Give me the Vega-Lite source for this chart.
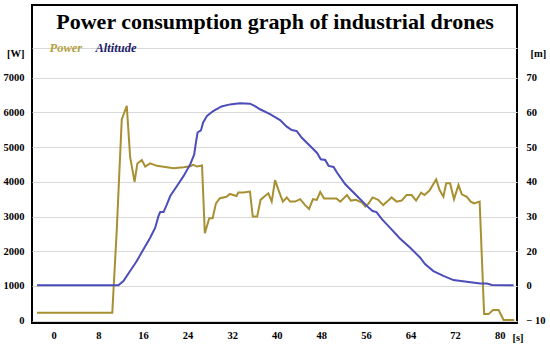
{
  "$schema": "https://vega.github.io/schema/vega-lite/v6.json",
  "autosize": {"type": "none"},
  "padding": {"left": 32, "top": 5, "right": 33, "bottom": 23},
  "width": 485,
  "height": 318,
  "background": "#ffffff",
  "config": {
    "font": "Liberation Serif",
    "view": {"stroke": "#000000", "strokeWidth": 2},
    "axis": {
      "labelFont": "Liberation Serif",
      "labelFontWeight": "bold",
      "labelFontSize": 10.5,
      "labelColor": "#000000",
      "titleFont": "Liberation Serif",
      "titleFontWeight": "bold",
      "titleFontSize": 10.5,
      "titleColor": "#000000",
      "domain": false,
      "ticks": false
    },
    "legend": {
      "labelFont": "Liberation Serif"
    }
  },
  "data": {
    "values": [
      {"t": -3.0, "value": 230, "series": "Power"},
      {"t": 10.5, "value": 230, "series": "Power"},
      {"t": 11.3, "value": 2600, "series": "Power"},
      {"t": 12.2, "value": 5800, "series": "Power"},
      {"t": 13.1, "value": 6190, "series": "Power"},
      {"t": 13.7, "value": 4720, "series": "Power"},
      {"t": 14.5, "value": 4000, "series": "Power"},
      {"t": 15.0, "value": 4530, "series": "Power"},
      {"t": 15.8, "value": 4630, "series": "Power"},
      {"t": 16.4, "value": 4440, "series": "Power"},
      {"t": 17.3, "value": 4530, "series": "Power"},
      {"t": 18.5, "value": 4460, "series": "Power"},
      {"t": 20.3, "value": 4420, "series": "Power"},
      {"t": 21.5, "value": 4390, "series": "Power"},
      {"t": 23.3, "value": 4420, "series": "Power"},
      {"t": 24.5, "value": 4450, "series": "Power"},
      {"t": 25.0, "value": 4490, "series": "Power"},
      {"t": 25.7, "value": 4440, "series": "Power"},
      {"t": 26.6, "value": 4470, "series": "Power"},
      {"t": 27.1, "value": 2520, "series": "Power"},
      {"t": 27.9, "value": 2950, "series": "Power"},
      {"t": 28.5, "value": 2950, "series": "Power"},
      {"t": 29.1, "value": 3380, "series": "Power"},
      {"t": 29.8, "value": 3530, "series": "Power"},
      {"t": 31.0, "value": 3570, "series": "Power"},
      {"t": 31.6, "value": 3650, "series": "Power"},
      {"t": 32.2, "value": 3620, "series": "Power"},
      {"t": 32.8, "value": 3590, "series": "Power"},
      {"t": 33.1, "value": 3690, "series": "Power"},
      {"t": 34.0, "value": 3690, "series": "Power"},
      {"t": 35.2, "value": 3720, "series": "Power"},
      {"t": 35.7, "value": 3000, "series": "Power"},
      {"t": 36.5, "value": 3000, "series": "Power"},
      {"t": 37.1, "value": 3480, "series": "Power"},
      {"t": 37.9, "value": 3590, "series": "Power"},
      {"t": 38.5, "value": 3670, "series": "Power"},
      {"t": 39.1, "value": 3430, "series": "Power"},
      {"t": 39.7, "value": 4050, "series": "Power"},
      {"t": 40.3, "value": 3770, "series": "Power"},
      {"t": 41.1, "value": 3430, "series": "Power"},
      {"t": 41.8, "value": 3550, "series": "Power"},
      {"t": 42.4, "value": 3430, "series": "Power"},
      {"t": 43.3, "value": 3430, "series": "Power"},
      {"t": 44.2, "value": 3500, "series": "Power"},
      {"t": 45.1, "value": 3330, "series": "Power"},
      {"t": 45.8, "value": 3220, "series": "Power"},
      {"t": 46.5, "value": 3500, "series": "Power"},
      {"t": 47.2, "value": 3480, "series": "Power"},
      {"t": 47.8, "value": 3710, "series": "Power"},
      {"t": 48.5, "value": 3520, "series": "Power"},
      {"t": 49.6, "value": 3520, "series": "Power"},
      {"t": 50.7, "value": 3520, "series": "Power"},
      {"t": 51.4, "value": 3430, "series": "Power"},
      {"t": 52.6, "value": 3620, "series": "Power"},
      {"t": 53.3, "value": 3460, "series": "Power"},
      {"t": 54.2, "value": 3480, "series": "Power"},
      {"t": 55.3, "value": 3400, "series": "Power"},
      {"t": 55.9, "value": 3290, "series": "Power"},
      {"t": 56.4, "value": 3360, "series": "Power"},
      {"t": 57.2, "value": 3550, "series": "Power"},
      {"t": 58.2, "value": 3480, "series": "Power"},
      {"t": 59.1, "value": 3330, "series": "Power"},
      {"t": 59.8, "value": 3430, "series": "Power"},
      {"t": 60.6, "value": 3550, "series": "Power"},
      {"t": 61.5, "value": 3430, "series": "Power"},
      {"t": 62.4, "value": 3460, "series": "Power"},
      {"t": 63.3, "value": 3620, "series": "Power"},
      {"t": 64.2, "value": 3620, "series": "Power"},
      {"t": 65.0, "value": 3460, "series": "Power"},
      {"t": 65.9, "value": 3690, "series": "Power"},
      {"t": 66.5, "value": 3620, "series": "Power"},
      {"t": 67.4, "value": 3750, "series": "Power"},
      {"t": 68.6, "value": 4070, "series": "Power"},
      {"t": 69.2, "value": 3770, "series": "Power"},
      {"t": 69.9, "value": 3570, "series": "Power"},
      {"t": 70.4, "value": 3960, "series": "Power"},
      {"t": 71.1, "value": 3960, "series": "Power"},
      {"t": 71.8, "value": 3500, "series": "Power"},
      {"t": 72.6, "value": 3910, "series": "Power"},
      {"t": 73.2, "value": 3640, "series": "Power"},
      {"t": 74.1, "value": 3570, "series": "Power"},
      {"t": 74.8, "value": 3430, "series": "Power"},
      {"t": 75.4, "value": 3380, "series": "Power"},
      {"t": 76.4, "value": 3430, "series": "Power"},
      {"t": 77.2, "value": 190, "series": "Power"},
      {"t": 78.0, "value": 190, "series": "Power"},
      {"t": 78.8, "value": 310, "series": "Power"},
      {"t": 79.8, "value": 310, "series": "Power"},
      {"t": 80.7, "value": 20, "series": "Power"},
      {"t": 82.6, "value": 20, "series": "Power"},
      {"t": -3.0, "value": 0.2, "series": "Altitude"},
      {"t": 11.6, "value": 0.2, "series": "Altitude"},
      {"t": 12.5, "value": 1.4, "series": "Altitude"},
      {"t": 13.7, "value": 4.3, "series": "Altitude"},
      {"t": 14.9, "value": 7.2, "series": "Altitude"},
      {"t": 16.1, "value": 10.6, "series": "Altitude"},
      {"t": 17.3, "value": 13.9, "series": "Altitude"},
      {"t": 18.2, "value": 16.8, "series": "Altitude"},
      {"t": 18.8, "value": 20.2, "series": "Altitude"},
      {"t": 19.1, "value": 21.3, "series": "Altitude"},
      {"t": 19.7, "value": 21.3, "series": "Altitude"},
      {"t": 20.3, "value": 23.5, "series": "Altitude"},
      {"t": 20.9, "value": 25.9, "series": "Altitude"},
      {"t": 22.1, "value": 28.8, "series": "Altitude"},
      {"t": 23.3, "value": 31.7, "series": "Altitude"},
      {"t": 24.5, "value": 35.1, "series": "Altitude"},
      {"t": 25.2, "value": 37.9, "series": "Altitude"},
      {"t": 25.5, "value": 41.3, "series": "Altitude"},
      {"t": 25.8, "value": 44.2, "series": "Altitude"},
      {"t": 26.4, "value": 44.8, "series": "Altitude"},
      {"t": 26.8, "value": 47.1, "series": "Altitude"},
      {"t": 27.5, "value": 49.0, "series": "Altitude"},
      {"t": 28.6, "value": 50.4, "series": "Altitude"},
      {"t": 30.1, "value": 51.7, "series": "Altitude"},
      {"t": 31.6, "value": 52.3, "series": "Altitude"},
      {"t": 33.4, "value": 52.6, "series": "Altitude"},
      {"t": 35.2, "value": 52.5, "series": "Altitude"},
      {"t": 36.1, "value": 51.8, "series": "Altitude"},
      {"t": 37.0, "value": 50.9, "series": "Altitude"},
      {"t": 38.8, "value": 49.5, "series": "Altitude"},
      {"t": 40.6, "value": 47.8, "series": "Altitude"},
      {"t": 41.8, "value": 45.9, "series": "Altitude"},
      {"t": 42.7, "value": 44.9, "series": "Altitude"},
      {"t": 43.6, "value": 44.6, "series": "Altitude"},
      {"t": 44.5, "value": 42.7, "series": "Altitude"},
      {"t": 46.0, "value": 40.3, "series": "Altitude"},
      {"t": 47.2, "value": 38.4, "series": "Altitude"},
      {"t": 47.9, "value": 36.5, "series": "Altitude"},
      {"t": 48.7, "value": 36.3, "series": "Altitude"},
      {"t": 49.3, "value": 34.6, "series": "Altitude"},
      {"t": 50.2, "value": 34.3, "series": "Altitude"},
      {"t": 50.8, "value": 32.7, "series": "Altitude"},
      {"t": 52.3, "value": 29.3, "series": "Altitude"},
      {"t": 54.4, "value": 25.9, "series": "Altitude"},
      {"t": 56.2, "value": 23.0, "series": "Altitude"},
      {"t": 57.2, "value": 21.6, "series": "Altitude"},
      {"t": 57.9, "value": 21.3, "series": "Altitude"},
      {"t": 58.9, "value": 19.2, "series": "Altitude"},
      {"t": 60.3, "value": 16.8, "series": "Altitude"},
      {"t": 62.1, "value": 13.7, "series": "Altitude"},
      {"t": 63.9, "value": 11.1, "series": "Altitude"},
      {"t": 65.7, "value": 8.2, "series": "Altitude"},
      {"t": 66.6, "value": 6.3, "series": "Altitude"},
      {"t": 68.1, "value": 4.3, "series": "Altitude"},
      {"t": 69.9, "value": 2.9, "series": "Altitude"},
      {"t": 71.7, "value": 1.7, "series": "Altitude"},
      {"t": 74.1, "value": 1.2, "series": "Altitude"},
      {"t": 76.5, "value": 0.7, "series": "Altitude"},
      {"t": 77.7, "value": 0.7, "series": "Altitude"},
      {"t": 78.6, "value": 0.3, "series": "Altitude"},
      {"t": 82.5, "value": 0.2, "series": "Altitude"}
    ]
  },
  "encoding": {
    "color": {
      "field": "series",
      "type": "nominal",
      "scale": {"domain": ["Power", "Altitude"], "range": ["#a89032", "#4c4cba"]},
      "legend": {
        "orient": "none",
        "legendX": 5,
        "legendY": 37,
        "direction": "horizontal",
        "title": null,
        "padding": 0,
        "symbolSize": 0,
        "symbolStrokeWidth": 0,
        "symbolOpacity": 0,
        "labelOffset": 0,
        "columnPadding": 0,
        "labelFont": "Liberation Serif",
        "labelFontSize": 12.5,
        "labelFontWeight": "bold",
        "labelFontStyle": "italic",
        "labelBaseline": "middle",
        "encode": {
          "labels": {
            "update": {
              "fill": [
                {"test": "datum.value === 'Power'", "value": "#b3a140"},
                {"value": "#1d1d6b"}
              ]
            }
          }
        }
      }
    }
  },
  "layer": [
    {
      "transform": [{"filter": "datum.series === 'Power'"}],
      "mark": {"type": "line", "strokeWidth": 2},
      "encoding": {
        "x": {
          "field": "t",
          "type": "quantitative",
          "scale": {"domain": [-3.9, 83.1], "nice": false, "zero": false},
          "axis": {
            "orient": "bottom",
            "values": [0, 8, 16, 24, 32, 40, 48, 56, 64, 72, 80],
            "grid": false,
            "labelFont": "Liberation Serif",
            "labelPadding": 7,
            "title": "[s]",
            "titleFont": "Liberation Serif",
            "titleX": 480,
            "titleY": 17,
            "titleAlign": "left",
            "titleBaseline": "alphabetic"
          }
        },
        "y": {
          "field": "value",
          "type": "quantitative",
          "scale": {"domain": [-66, 9093], "nice": false, "zero": false},
          "axis": {
            "orient": "left",
            "values": [0, 1000, 2000, 3000, 4000, 5000, 6000, 7000, 7846],
            "labelExpr": "datum.value > 7500 ? '' : datum.value",
            "labelFont": "Liberation Serif",
            "grid": true,
            "gridColor": "#d9d9d9",
            "gridWidth": 1,
            "labelPadding": 8,
            "title": "[W]",
            "titleFont": "Liberation Serif",
            "titleAngle": 0,
            "titleX": -8,
            "titleY": 48,
            "titleAlign": "right",
            "titleBaseline": "middle"
          }
        }
      }
    },
    {
      "transform": [{"filter": "datum.series === 'Altitude'"}],
      "mark": {"type": "line", "strokeWidth": 2},
      "encoding": {
        "x": {
          "field": "t",
          "type": "quantitative",
          "scale": {"domain": [-3.9, 83.1], "nice": false, "zero": false},
          "axis": {
            "orient": "top",
            "labels": false,
            "grid": false,
            "title": "Power consumption graph of industrial drones",
            "titleFont": "Liberation Serif",
            "titleFontSize": 22,
            "titleFontWeight": "bold",
            "titleColor": "#000000",
            "titleX": 242.5,
            "titleY": 23,
            "titleAlign": "center",
            "titleBaseline": "alphabetic"
          }
        },
        "y": {
          "field": "value",
          "type": "quantitative",
          "scale": {"domain": [-10.66, 80.93], "nice": false, "zero": false},
          "axis": {
            "orient": "right",
            "values": [-10, 0, 10, 20, 30, 40, 50, 60],
            "labelExpr": "datum.value > 0 ? format(datum.value + 10, 'd') : (datum.value < 0 ? '\u2212 10' : '0')",
            "labelFont": "Liberation Serif",
            "grid": false,
            "labelPadding": 9,
            "title": "[m]",
            "titleFont": "Liberation Serif",
            "titleAngle": 0,
            "titleX": 13,
            "titleY": 48,
            "titleAlign": "left",
            "titleBaseline": "middle"
          }
        }
      }
    }
  ],
  "resolve": {"scale": {"y": "independent"}, "axis": {"x": "independent"}}
}
